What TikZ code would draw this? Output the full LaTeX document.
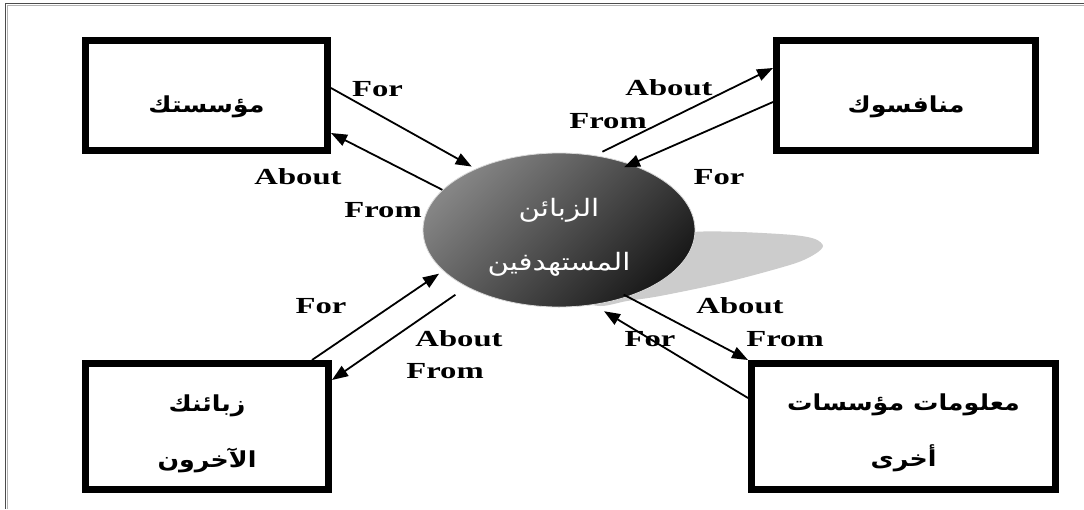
\documentclass[tikz,border=0pt]{standalone}
\usepackage{fontspec}
\usetikzlibrary{arrows.meta,calc,shapes.geometric}
\TeXXeTstate=1
\newfontfamily\arfont[Script=Arabic,FakeStretch=1.15]{DejaVu Sans}
\newfontfamily\arlight[Script=Arabic,FakeStretch=1.22]{DejaVu Sans}
\newfontfamily\lblfont{Liberation Serif}[FakeStretch=1.42]

\begin{document}
\begin{tikzpicture}[x=1pt,y=-1pt,
  box/.style={draw=black,line width=7pt,inner sep=0pt,align=center,
    font=\arfont\bfseries\fontsize{22pt}{56pt}\selectfont},
  lbl/.style={inner sep=0pt,font=\lblfont\bfseries\fontsize{23pt}{23pt}\selectfont},
  flow/.style={line width=1.8pt,-{Triangle[length=16pt,width=12pt]}}]

\useasboundingbox (0,0) rectangle (1084,509);
\fill[white] (0,0) rectangle (1084,509);

% page frame (top and left edges)
\draw[line width=1.2pt,black!70] (1084,3.5) -| (5.5,509);
\draw[line width=1.2pt,black!30] (1084,5.3) -| (7.3,509);

% cast shadow of the central ellipse
\fill[gray!40] plot[smooth cycle] coordinates {(600,306) (627,301) (660,296) (727,282) (793,264) (815,254) (823,246) (815,239) (793,235) (740,232) (693,232) (640,240) (590,268) (578,298)};

% flow labels
\node[lbl] (l1) at (377.5,89) {For};
\node[lbl] (l2) at (298,177) {About};
\node[lbl] (l3) at (383,210) {From};
\node[lbl] (l4) at (669,88) {About};
\node[lbl] (l5) at (608,121) {From};
\node[lbl] (l6) at (719,177) {For};
\node[lbl] (l7) at (321,306) {For};
\node[lbl] (l8) at (459,339) {About};
\node[lbl] (l9) at (445,371) {From};
\node[lbl] (l10) at (740,306) {About};
\node[lbl] (l11) at (785,339) {From};
\node[lbl] (l12) at (650,339) {For};

% central target customers ellipse
\node[ellipse,minimum width=272pt,minimum height=154pt,inner sep=0pt,
  top color=black!48,bottom color=black!90,shading angle=45,
  draw=gray!30,line width=0.8pt,text=white,align=center,
  font=\arlight\fontsize{24pt}{54pt}\selectfont] (cust) at (559,230)
  {\rule{0pt}{33pt}\beginR الزبائن\endR\\\beginR المستهدفين\endR};

% surrounding boxes
\node[box,minimum width=242pt,minimum height=110pt] (org) at (206.5,95.5)
  {\rule{0pt}{40pt}\beginR مؤسستك\endR};
\node[box,minimum width=259pt,minimum height=110pt] (comp) at (906,95.5)
  {\rule{0pt}{40pt}\beginR منافسوك\endR};
\node[box,minimum width=243pt,minimum height=126pt] (oth) at (207,426.5)
  {\rule{0pt}{31pt}\beginR زبائنك\endR\\\beginR الآخرون\endR};
\node[box,minimum width=304pt,minimum height=126pt] (inf) at (903.5,426.5)
  {\rule{0pt}{29pt}\beginR معلومات مؤسسات\endR\\\beginR أخرى\endR};

% information flows
\draw[flow] ($(org.east)+(0,-7.5)$) -- ($(cust.center)!1.04!(cust.144)$);
\draw[flow] (cust.161) -- ($(org.east)+(0,37.5)$);
\draw[flow] ($(cust.center)!1.06!(cust.61)$) -- ($(comp.west)+(0,-27.5)$);
\draw[flow] ($(comp.west)+(0,6.5)$) -- ($(cust.center)!0.94!(cust.44)$);
\draw[flow] ($(oth.north)+(105,0)$) -- ($(cust.center)!1.045!(cust.200)$);
\draw[flow] ($(cust.center)!1.13!(cust.212)$) -- ($(oth.east)+(0,-46.5)$);
\draw[flow] ($(cust.center)!0.96!(cust.315)$) -- (inf.north west);
\draw[flow] ($(inf.west)+(0,-28.5)$) -- ($(cust.center)!1.1!(cust.299)$);
\end{tikzpicture}
\end{document}
